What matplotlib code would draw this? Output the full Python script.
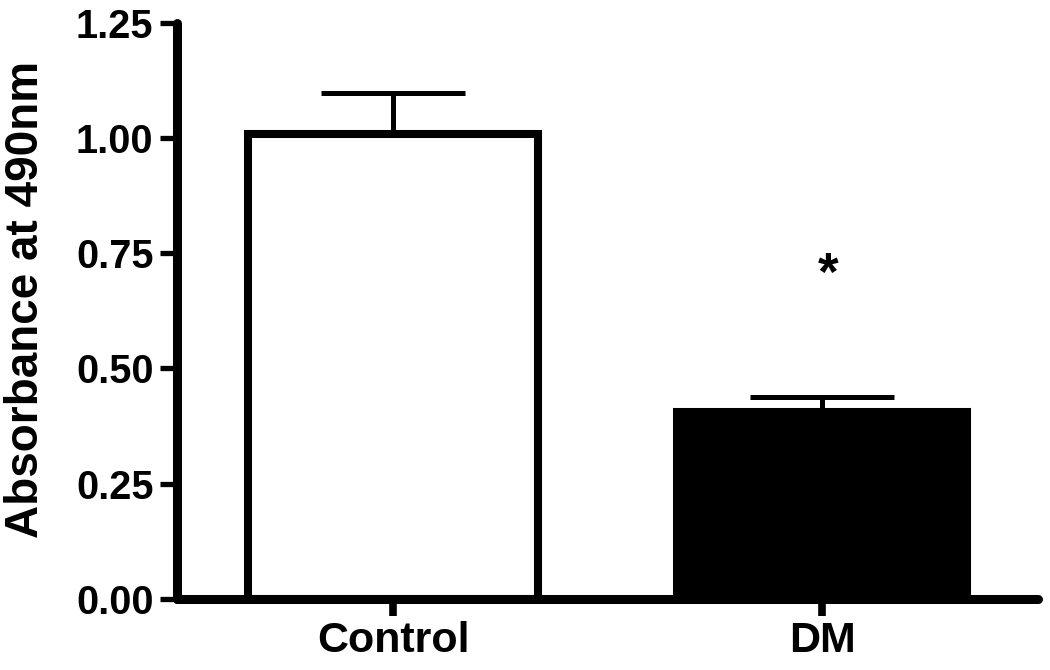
import numpy as np
import matplotlib.pyplot as plt

plt.rcParams['font.family'] = ['Liberation Sans', 'DejaVu Sans']
plt.rcParams['font.weight'] = 'bold'

# ---- data ----
groups = ['Control', 'DM']
means = [1.008, 0.405]
sem = [0.090, 0.033]
star_y = 0.70          # position of the significance marker
y_ticks = [0.00, 0.25, 0.50, 0.75, 1.00, 1.25]

fig = plt.figure(figsize=(10.5, 6.7), dpi=100)
ax = fig.add_axes([0.1686, 0.106, 0.820, 0.8604])

x = np.arange(len(groups))

# error bars only upward (Prism style)
ax.errorbar(x, means, yerr=[np.zeros(len(sem)), sem], fmt='none',
            ecolor='black', elinewidth=3.6, capsize=52, capthick=3.6, zorder=1)

ax.bar(x, means, width=0.678, color=['white', 'black'], edgecolor='black',
       linewidth=5.8, zorder=2)

ax.text(x[1] + 0.015, star_y, '*', ha='center', va='center', fontsize=38,
        fontweight='bold')

ax.set_xlim(-0.5035, 1.5035)
ax.set_ylim(0, 1.25)
ax.set_yticks(y_ticks)
ax.set_yticklabels([f'{v:.2f}' for v in y_ticks])
ax.set_xticks(x)
ax.set_xticklabels(groups)

for side in ['top', 'right']:
    ax.spines[side].set_visible(False)
for side in ['left', 'bottom']:
    ax.spines[side].set_linewidth(6.5)
    ax.spines[side].set_capstyle('round')

ax.tick_params(axis='y', length=12, width=3.8, labelsize=28.5, pad=5)
ax.tick_params(axis='x', length=12, width=5.5, labelsize=31, pad=4)

ax.set_ylabel('Absorbance at 490nm', fontsize=33, fontweight='bold')
ax.yaxis.set_label_coords(-0.15, 0.52)

fig.savefig('out.png', dpi=100)
